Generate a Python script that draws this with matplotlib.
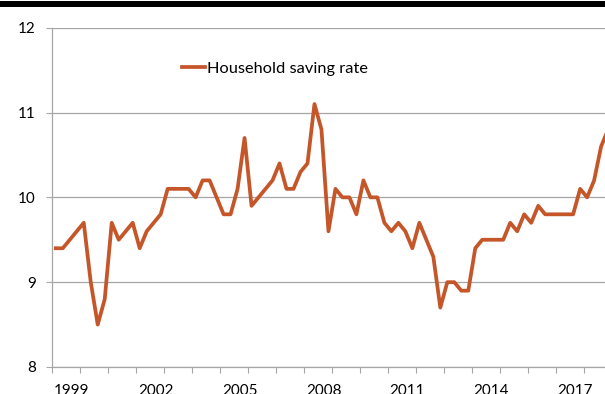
import matplotlib
matplotlib.use("Agg")
from matplotlib import pyplot as plt
from matplotlib.patches import Rectangle
import numpy as np

plt.rcParams["font.family"] = ["Lato", "DejaVu Sans"]

# ********************** DATA: quarterly, 1999Q1 - 2018Q4 **********************
START_YEAR = 1999
saving_rate = [
    9.4, 9.4, 9.5, 9.6, 9.7, 9.0, 8.5, 8.8,      # 1999-2000
    9.7, 9.5, 9.6, 9.7, 9.4, 9.6, 9.7, 9.8,      # 2001-2002
    10.1, 10.1, 10.1, 10.1, 10.0, 10.2, 10.2, 10.0,  # 2003-2004
    9.8, 9.8, 10.1, 10.7, 9.9, 10.0, 10.1, 10.2,  # 2005-2006
    10.4, 10.1, 10.1, 10.3, 10.4, 11.1, 10.8, 9.6,  # 2007-2008
    10.1, 10.0, 10.0, 9.8, 10.2, 10.0, 10.0, 9.7,  # 2009-2010
    9.6, 9.7, 9.6, 9.4, 9.7, 9.5, 9.3, 8.7,      # 2011-2012
    9.0, 9.0, 8.9, 8.9, 9.4, 9.5, 9.5, 9.5,      # 2013-2014
    9.5, 9.7, 9.6, 9.8, 9.7, 9.9, 9.8, 9.8,      # 2015-2016
    9.8, 9.8, 9.8, 10.1, 10.0, 10.2, 10.6, 10.8,  # 2017-2018
]
label_years = [1999, 2002, 2005, 2008, 2011, 2014, 2017]
series_name = "Household saving rate"

LINE_COLOR = "#C5562A"
GRID_COLOR = "#A6A6A6"

# ********************** FIGURE *****************************
W, H = 605, 394
fig = plt.figure(figsize=(W / 100, H / 100), dpi=100)
ax = fig.add_axes([52.3 / W, 1 - 367 / H, (611.6 - 52.3) / W, (367 - 27.7) / H])

q = np.arange(len(saving_rate))
ax.plot(q, saving_rate, color=LINE_COLOR, lw=2.7, solid_joinstyle="round",
        label=series_name, clip_on=True)

n_years = len(saving_rate) // 4
ax.set_xlim(-0.5, len(saving_rate) - 0.5)
ax.set_ylim(8, 12)

# year boundaries as tick marks, labels every 3 years
ax.set_xticks(np.arange(n_years + 1) * 4 - 0.5, minor=True)
ax.set_xticks([(y - START_YEAR) * 4 + 1.5 + 0.8 for y in label_years])
ax.set_xticklabels([str(y) for y in label_years])
ax.tick_params(axis="x", which="major", length=0, pad=12.5)
ax.tick_params(axis="x", which="minor", length=4.5, width=0.8, color=GRID_COLOR, direction="out")

ax.set_yticks([8, 9, 10, 11, 12])
ax.tick_params(axis="y", length=4, width=0.8, color=GRID_COLOR, pad=8)
ax.tick_params(labelsize=11, labelcolor="black")

ax.grid(axis="y", color=GRID_COLOR, lw=0.9)
ax.set_axisbelow(True)
for side in ["top", "right"]:
    ax.spines[side].set_visible(False)
for side in ["left", "bottom"]:
    ax.spines[side].set_color(GRID_COLOR)
    ax.spines[side].set_linewidth(0.9)

ax.legend(loc="center left", bbox_to_anchor=(181.7 / W, 1 - 69 / H),
          bbox_transform=fig.transFigure, frameon=False, fontsize=11.8,
          handlelength=1.4, handletextpad=0.15, borderpad=0, borderaxespad=0)

# black rule across the top
fig.patches.append(Rectangle((0, 1 - 6.7 / H), 1, 6.0 / H, transform=fig.transFigure,
                             facecolor="black", edgecolor="none"))

fig.savefig("out.png", dpi=100)
